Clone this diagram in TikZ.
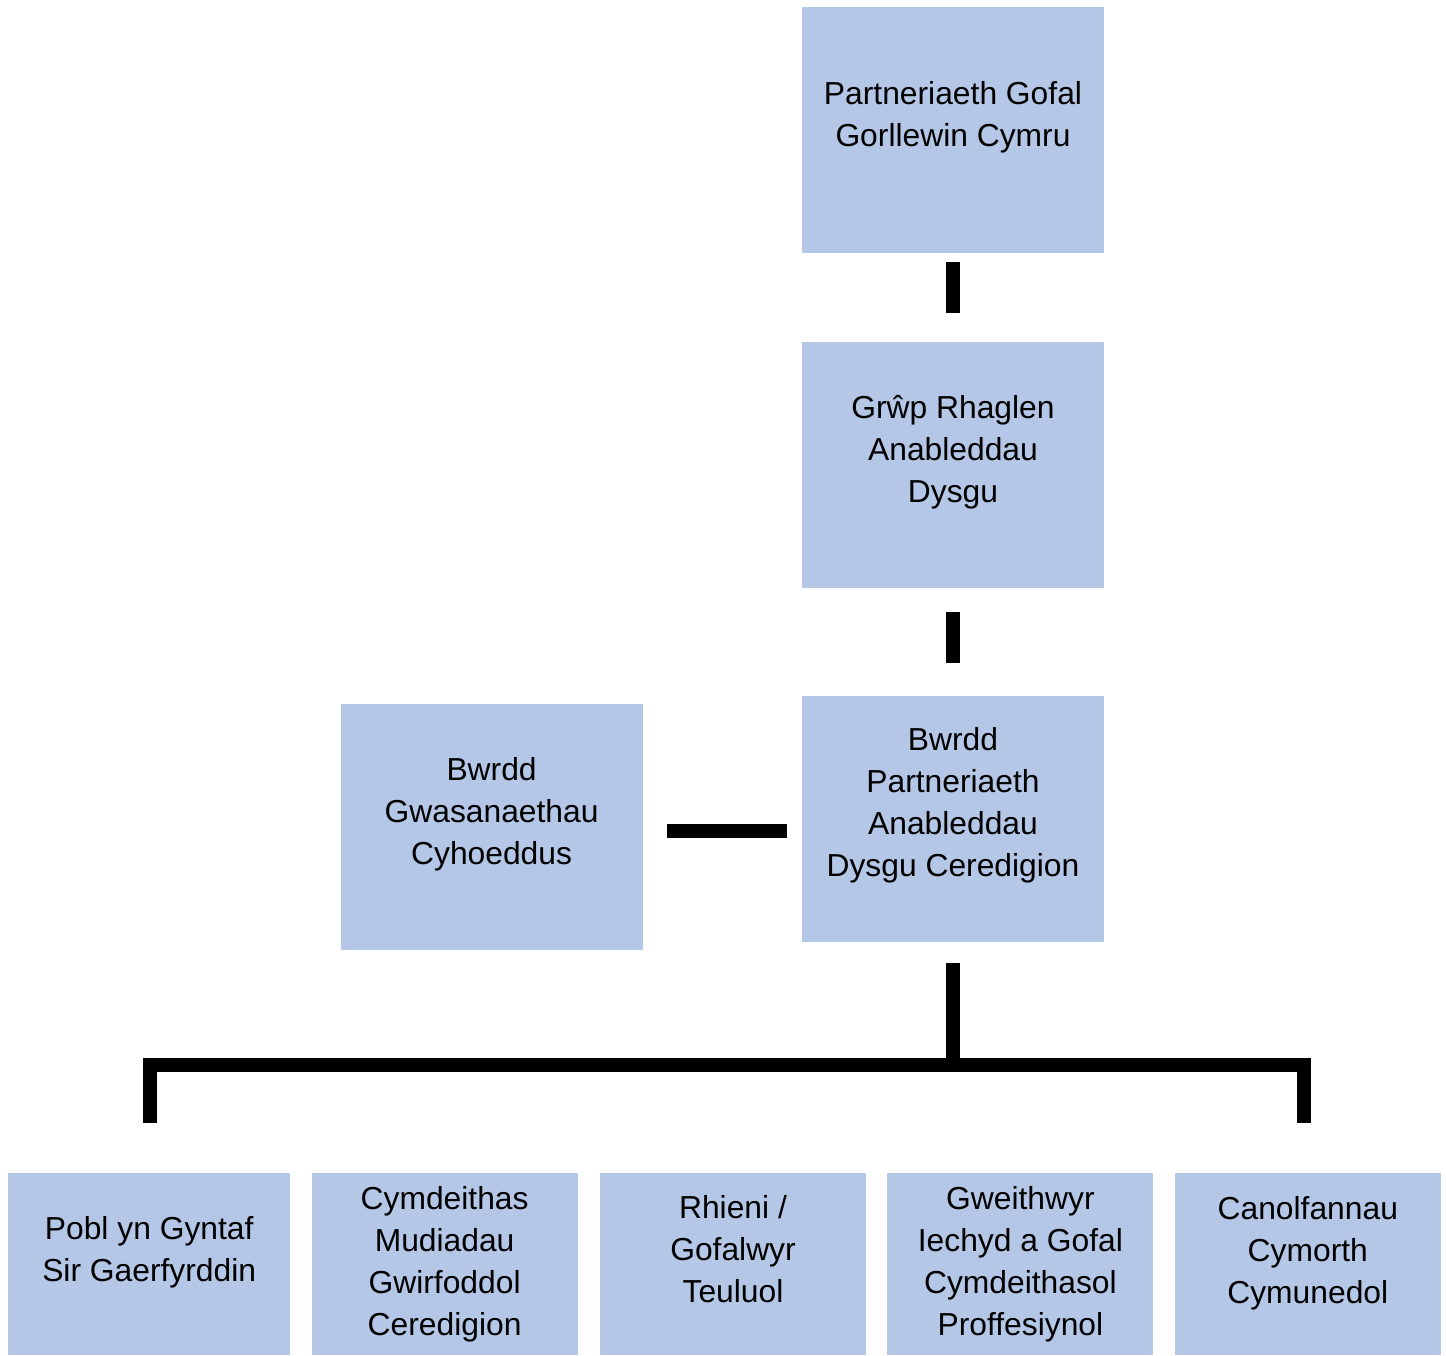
\documentclass[tikz,border=0pt]{standalone}
\usepackage{fontspec}
\setmainfont{Liberation Sans}
\usepackage{tikz}
\usetikzlibrary{calc}
\definecolor{pblue}{HTML}{B4C7E7}
\newcommand{\tlines}[2]{\begin{tabular}{@{}c@{}}#2\\[#1]\end{tabular}}

\begin{document}
\begin{tikzpicture}[x=1pt, y=-1pt,
    MBOX/.style={rectangle, fill=pblue, inner sep=0pt, minimum width=302pt, minimum height=246pt, font=\fontsize{31.8}{42}\selectfont},
    LBOX/.style={rectangle, fill=pblue, inner sep=0pt, minimum width=266pt, minimum height=182pt, anchor=north west, font=\fontsize{31.8}{42}\selectfont},
    LINK/.style={line width=14pt, black}
    ]
    \useasboundingbox (0,0) rectangle (1446,1355);
        \node[MBOX] (pgc) at (953,130) {\tlines{25pt}{Partneriaeth Gofal\\Gorllewin Cymru}};
        \node[MBOX, anchor=north] (grp) at ($(pgc.south)+(0,89)$) {\tlines{27pt}{Grŵp Rhaglen\\Anableddau\\Dysgu}};
        \draw[LINK] ($(pgc.south)+(0,9)$) -- ($(grp.north)+(0,-29)$);
        \node[MBOX, anchor=north] (bpa) at ($(grp.south)+(0,107)$) {\tlines{28pt}{Bwrdd\\Partneriaeth\\Anableddau\\Dysgu Ceredigion}};
        \draw[LINK] ($(grp.south)+(0,23)$) -- ($(bpa.north)+(0,-33)$);
        \node[MBOX, anchor=north east] (bgc) at ($(bpa.north west)+(-159,8)$) {\tlines{26pt}{Bwrdd\\Gwasanaethau\\Cyhoeddus}};
        \draw[LINK] ($(bgc.east)+(24,4)$) -- ($(bpa.west)+(-15,12)$);
        \node[LBOX, minimum width=282pt] (b1) at (8,1173) {\tlines{24pt}{Pobl yn Gyntaf\\Sir Gaerfyrddin}};
        \node[LBOX] (b2) at ($(b1.north east)+(21,0)$) {\tlines{0pt}{Cymdeithas\\Mudiadau\\Gwirfoddol\\Ceredigion}};
        \node[LBOX] (b3) at ($(b2.north east)+(22,0)$) {\tlines{24pt}{Rhieni /\\Gofalwyr\\Teuluol}};
        \node[LBOX] (b4) at ($(b3.north east)+(21,0)$) {\tlines{0pt}{Gweithwyr\\Iechyd a Gofal\\Cymdeithasol\\Proffesiynol}};
        \node[LBOX] (b5) at ($(b4.north east)+(21,0)$) {\tlines{22pt}{Canolfannau\\Cymorth\\Cymunedol}};
        \coordinate (split) at ($(bpa.south)+(0,122.5)$);
        \coordinate (lft) at ($(b1.north)+(1,-50)$);
        \coordinate (rgt) at ($(b5.north)+(-4,-50)$);
        \draw[LINK] ($(bpa.south)+(0,21)$) -- (split);
        \draw[LINK] (lft) |- (split) -| (rgt);
    \end{tikzpicture}
\end{document}
